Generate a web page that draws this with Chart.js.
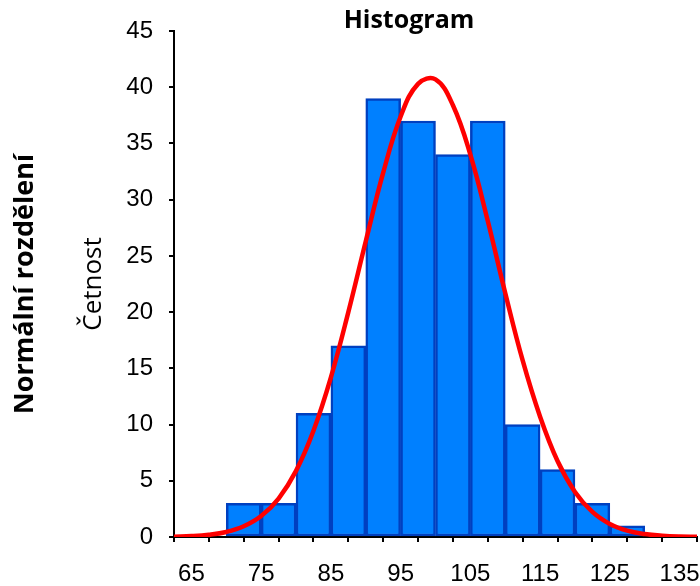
<!DOCTYPE html>
<html lang="cs">
  <head>
    <meta charset="UTF-8" />
    <title>Histogram</title>
    <style>
    body { margin: 0; background-color: #ffffff; }
    #wrap { width: 700px; height: 586px; }
    </style>
    <script src="https://cdn.jsdelivr.net/npm/chart.js@4.4.1/dist/chart.umd.min.js"></script>
  </head>
  <body>
    <div id="wrap"><canvas id="chart" width="700" height="586"></canvas></div>

    <script>
      // histogram bins (centres, width 5) and counts
      const binCenters = [72.5, 77.5, 82.5, 87.5, 92.5, 97.5, 102.5, 107.5, 112.5, 117.5, 122.5, 127.5];
      const counts = [3, 3, 11, 17, 39, 37, 34, 37, 10, 6, 3, 1];

      // normal curve
      const curveX = [62.5, 65, 67.5, 70, 72.5, 75, 77.5, 80, 82.5, 85, 87.5, 90, 92.5, 95, 97.5, 100,
                      102.5, 105, 107.5, 110, 112.5, 115, 117.5, 120, 122.5, 125, 127.5, 130, 132.5, 135, 137.5];
      const curveY = [0.03, 0.08, 0.2, 0.45, 0.95, 1.86, 3.42, 5.88, 9.45, 14.2, 20.0, 26.3, 32.4, 37.4, 40.3, 40.7,
                      38.4, 34.0, 28.1, 21.7, 15.7, 10.7, 6.76, 4.01, 2.23, 1.16, 0.56, 0.26, 0.11, 0.04, 0.02];

      const xTicks = [65, 70, 75, 80, 85, 90, 95, 100, 105, 110, 115, 120, 125, 130, 135];
      const xLabels = [65, 75, 85, 95, 105, 115, 125, 135];

      const bars = binCenters.map((c, i) => ({x: c, y: counts[i]}));
      const curve = curveX.map((x, i) => ({x: x, y: curveY[i]}));

      const tickFont = {family: 'Liberation Sans, Arial', size: 24};

      // title sits a bit left of the plot centre, like in the original
      const titlePlugin = {
        id: 'histTitle',
        afterDraw(chart) {
          const ctx = chart.ctx;
          ctx.save();
          ctx.font = 'bold 25px "Open Sans"';
          ctx.fillStyle = '#000';
          ctx.textAlign = 'center';
          ctx.textBaseline = 'middle';
          ctx.fillText('Histogram', 409, 21);
          ctx.restore();
        }
      };

      const ctx = document.getElementById('chart').getContext('2d');
      const myChart = new Chart(ctx, {
        data: {
          datasets: [
            {
              type: 'line',
              data: curve,
              borderColor: '#ff0000',
              borderWidth: 4.5,
              pointRadius: 0,
              tension: 0.4,
              fill: false,
              order: 0
            },
            {
              type: 'bar',
              data: bars,
              backgroundColor: '#0080ff',
              borderColor: '#0040c0',
              borderWidth: 2.5,
              borderSkipped: false,
              barPercentage: 1,
              categoryPercentage: 1,
              order: 1
            }
          ]
        },
        options: {
          responsive: false,
          animation: false,
          layout: {padding: {top: 31, right: 3, bottom: 0, left: 0}},
          plugins: {
            legend: {display: false},
            tooltip: {enabled: false},
            title: {display: false}
          },
          scales: {
            x: {
              type: 'linear',
              offset: false,
              min: 62.5,
              max: 137.5,
              afterBuildTicks: s => { s.ticks = xTicks.map(v => ({value: v})); },
              afterFit: s => { s.height = 49; s.paddingLeft = 0; s.paddingRight = 0; },
              ticks: {
                font: tickFont,
                color: '#000',
                padding: 18,
                maxRotation: 0,
                autoSkip: false,
                callback: v => xLabels.includes(v) ? String(v) : ''
              },
              grid: {drawOnChartArea: false, drawTicks: true, tickLength: 5, color: '#000', lineWidth: 2},
              border: {display: true, color: '#000', width: 2}
            },
            y: {
              type: 'linear',
              position: 'left',
              weight: 0,
              min: 0,
              max: 45,
              afterFit: s => { s.width = 124; },
              ticks: {stepSize: 5, font: tickFont, color: '#000', padding: 16},
              grid: {drawOnChartArea: false, drawTicks: true, tickLength: 5, color: '#000', lineWidth: 2},
              border: {display: true, color: '#000', width: 2},
              title: {
                display: true,
                text: 'Četnost',
                color: '#000',
                font: {family: 'Open Sans', size: 26},
                padding: {top: 28, bottom: 0}
              }
            },
            y2: {
              type: 'linear',
              position: 'left',
              weight: 10,
              min: 0,
              max: 1,
              afterFit: s => { s.width = 50; },
              ticks: {display: false},
              grid: {display: false},
              border: {display: false},
              title: {
                display: true,
                text: 'Normální rozdělení',
                color: '#000',
                font: {family: 'Open Sans', size: 27, weight: 'bold'},
                padding: {top: 9, bottom: 0}
              }
            }
          }
        },
        plugins: [titlePlugin]
      });
    </script>
  </body>
</html>
